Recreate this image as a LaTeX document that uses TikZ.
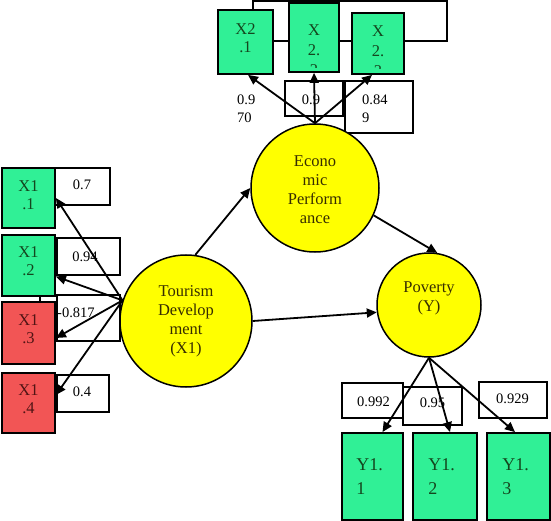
\documentclass[tikz,border=0pt]{standalone}
\usepackage{fontspec}
\setmainfont{Liberation Serif}
\usetikzlibrary{arrows.meta,calc}
\definecolor{bgreen}{RGB}{48,240,150}
\definecolor{bred}{RGB}{242,85,85}
\definecolor{gtext}{RGB}{20,70,30}
\definecolor{rtext}{RGB}{80,20,20}
\definecolor{ctext}{RGB}{55,45,0}
\definecolor{yel}{RGB}{255,255,0}
\begin{document}
\begin{tikzpicture}[x=1pt,y=-1pt,
  gbox/.style={draw=black, line width=1.8pt, fill=bgreen, inner sep=0pt},
  rbox/.style={draw=black, line width=1.8pt, fill=bred, inner sep=0pt},
  lbox/.style={draw=black, line width=1.8pt, fill=white, inner sep=0pt},
  gtxt/.style={text=gtext, align=center, font=\fontsize{16.5}{18}\selectfont, inner sep=0pt},
  rtxt/.style={text=rtext, align=center, font=\fontsize{16.5}{18}\selectfont, inner sep=0pt},
  ytxt/.style={text=gtext, align=left, anchor=west, font=\fontsize{18}{24}\selectfont, inner sep=0pt},
  ctxt/.style={text=ctext, align=center, font=\fontsize{16.5}{19}\selectfont, inner sep=0pt},
  ltxt/.style={text=black, font=\fontsize{14.5}{18}\selectfont, inner sep=0pt},
  circ/.style={circle, draw=black, line width=1.5pt, fill=yel, inner sep=0pt},
  arr/.style={line width=1.8pt, -{Triangle[length=10pt,width=9pt]}},
  ln/.style={line width=1.8pt}
]
\useasboundingbox (0,0) rectangle (551,521);

% top indicator boxes
\node[gbox, minimum width=55pt, minimum height=64pt] (x21) at (245.5,42) {};
\node[gbox, minimum width=50pt, minimum height=69pt] (x22) at (314,37.5) {};
\node[gbox, minimum width=52pt, minimum height=61pt] (x23) at (378,43.5) {};
\node[gtxt] (x21t) at (245.5,38) {X2\\.1};
\begin{scope}
\clip ($(x22.south west)+(1,-5)$) rectangle ($(x22.north east)+(-1,1)$);
\node[gtxt, font=\fontsize{16.5}{20}\selectfont] (x22t) at (314,50) {X\\2.\\2};
\end{scope}
\begin{scope}
\clip ($(x23.south west)+(1,-6)$) rectangle ($(x23.north east)+(-1,1)$);
\node[gtxt, font=\fontsize{16.5}{20}\selectfont] (x23t) at (378,51) {X\\2.\\3};
\end{scope}
\coordinate (h41) at (0,41);
\coordinate (tr) at (447,1);
\draw[ln] ($(x21.north)+(7.5,0)$) |- (tr) |- ($(x23.east)+(0,-2.5)$);
\draw[ln] (x21.east |- h41) -- (x22.west |- h41);
\draw[ln] (x22.east |- h41) -- (x23.west |- h41);

% top loading boxes
\node[lbox, minimum width=58pt, minimum height=35pt] (l22) at (314,98.5) {};
\node[lbox, minimum width=68pt, minimum height=52pt] (l23) at (379,107) {};
\node[ltxt, align=left, anchor=north west] (t21) at (237,95) {0.9\\70};
\node[ltxt] (t22) at (311,100) {0.9};
\node[ltxt, align=left, anchor=north west] (t23) at (362,95) {0.84\\9};

% left indicator boxes
\node[gbox, minimum width=53pt, minimum height=60pt] (x11) at (28.5,198) {};
\node[lbox, minimum width=55pt, minimum height=37pt] (l11) at (82.5,186.5) {};
\node[gbox, minimum width=53pt, minimum height=61pt] (x12) at (28.5,265.5) {};
\node[lbox, minimum width=63pt, minimum height=37pt] (l12) at (88.5,256.5) {};
\node[rbox, minimum width=53pt, minimum height=62pt] (x13) at (28.5,333) {};
\node[lbox, minimum width=63pt, minimum height=46pt] (l13) at (88.5,318) {};
\node[rbox, minimum width=53pt, minimum height=60pt] (x14) at (28.5,403) {};
\node[lbox, minimum width=52pt, minimum height=37pt] (l14) at (83,393.5) {};
\node[gtxt] (x11t) at (28.5,195) {X1\\.1};
\node[gtxt] (x12t) at (28.5,261.5) {X1\\.2};
\node[rtxt] (x13t) at (28.5,329) {X1\\.3};
\node[rtxt] (x14t) at (28.5,399.5) {X1\\.4};
\node[ltxt] (t11) at (82,185) {0.7};
\node[ltxt] (t12) at (85,257) {0.94};
\node[ltxt, anchor=west] (t13) at (57,313) {-0.817};
\node[ltxt] (t14) at (82,392) {0.4};
\coordinate (c40) at (40,0);
\draw[ln] (x12.south -| c40) -- (x13.north -| c40);

% bottom indicator boxes
\node[gbox, minimum width=61pt, minimum height=87pt] (y11) at (372.5,476.5) {};
\node[gbox, minimum width=64pt, minimum height=87pt] (y12) at (445,476.5) {};
\node[gbox, minimum width=63pt, minimum height=87pt] (y13) at (518.5,476.5) {};
\node[ytxt] (y11t) at ($(y11.west)+(15,0)$) {Y1.\\1};
\node[ytxt] (y12t) at ($(y12.west)+(16,0)$) {Y1.\\2};
\node[ytxt] (y13t) at ($(y13.west)+(16,0)$) {Y1.\\3};
\node[lbox, minimum width=61pt, minimum height=35pt] (ly1) at (372.5,400.5) {};
\node[lbox, minimum width=59pt, minimum height=38pt] (ly2) at (432.5,406) {};
\node[lbox, minimum width=68pt, minimum height=36pt] (ly3) at (513,400) {};
\node[ltxt] (ty1) at (373.5,402) {0.992};
\node[ltxt] (ty2) at (432.5,403) {0.95};
\node[ltxt] (ty3) at (512.5,399) {0.929};

% latent variables
\node[circ, minimum size=128pt] (econ) at (315,188) {};
\node[circ, minimum size=132pt] (tour) at (186,321) {};
\node[circ, minimum size=104pt] (pov) at (429,305) {};
\node[ctxt] (econt) at (315,190) {Econo\\mic\\Perform\\ance};
\node[ctxt] (tourt) at (186,321) {Tourism\\Develop\\ment\\(X1)};
\node[ctxt] (povt) at (429,298) {Poverty\\(Y)};

% arrows
\draw[arr] (econ.north) -- ($(x21.south)+(2.5,0)$);
\draw[arr] (econ.north) -- (x22.south);
\draw[arr] (econ.north) -- ($(x23.south)+(-6,0)$);
\draw[arr] (tour.162) -- (x11.east);
\draw[arr] (tour.162) -- ($(x12.east)+(0,11)$);
\draw[arr] (tour.162) -- ($(x13.east)+(0,5)$);
\draw[arr] (tour.162) -- ($(x14.east)+(0,-8)$);
\draw[arr] (tour.82) -- (econ.west);
\draw[arr] (tour.east) -- (pov.188);
\draw[arr] (econ.-25) -- (pov.81);
\draw[arr] (pov.south) -- ($(y11.north)+(10,0)$);
\draw[arr] (pov.south) -- ($(y12.north)+(5,0)$);
\draw[arr] (pov.south) -- ($(y13.north)+(-3.5,0)$);
\end{tikzpicture}
\end{document}
